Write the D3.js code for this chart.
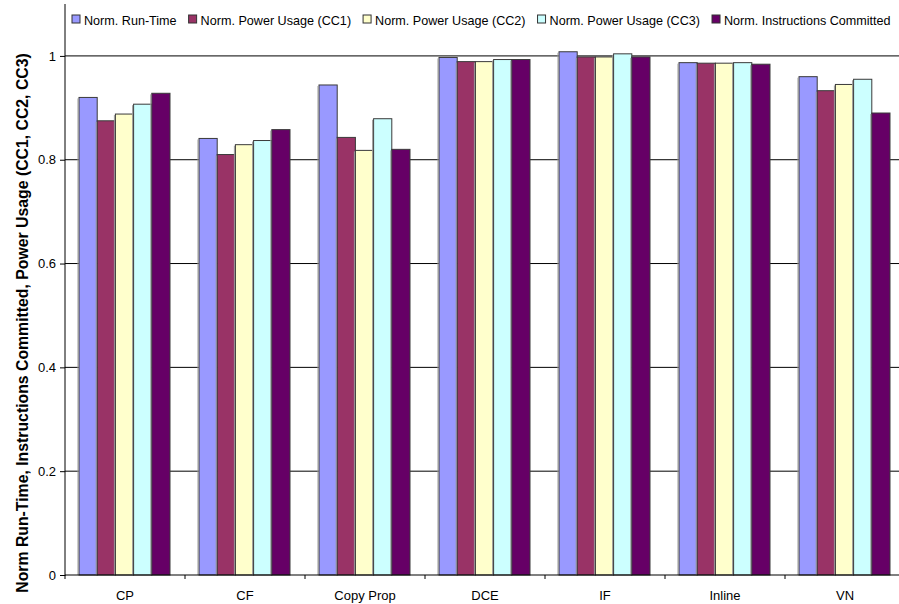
<!DOCTYPE html>
<html>
<head>
<meta charset="utf-8">
<script src="https://cdn.jsdelivr.net/npm/d3@7"></script>
<style>
  body { margin: 0; background: #fff; }
  svg { display: block; font-family: "Liberation Sans", Arial, sans-serif; }
</style>
</head>
<body>
<svg id="chart" width="899" height="604"></svg>
<script>
// categories and series
const categories = ["CP", "CF", "Copy Prop", "DCE", "IF", "Inline", "VN"];
const seriesNames = [
  "Norm. Run-Time",
  "Norm. Power Usage (CC1)",
  "Norm. Power Usage (CC2)",
  "Norm. Power Usage (CC3)",
  "Norm. Instructions Committed"
];
const seriesColors = ["#9999FF", "#993366", "#FFFFCC", "#CCFFFF", "#660066"];
const runTime = [0.920, 0.841, 0.944, 0.997, 1.008, 0.987, 0.960];
const powerCC1 = [0.875, 0.810, 0.843, 0.989, 0.998, 0.986, 0.933];
const powerCC2 = [0.888, 0.829, 0.818, 0.989, 0.998, 0.986, 0.945];
const powerCC3 = [0.907, 0.837, 0.879, 0.993, 1.004, 0.987, 0.955];
const instrCommitted = [0.928, 0.858, 0.820, 0.993, 0.998, 0.984, 0.890];
const yTicks = [0, 0.2, 0.4, 0.6, 0.8, 1];

const seriesValues = [runTime, powerCC1, powerCC2, powerCC3, instrCommitted];

const svg = d3.select("#chart");
const plotLeft = 65, plotRight = 905, plotTop = 4, plotBottom = 575;

// echelles
const x = d3.scaleBand().domain(categories).range([plotLeft, plotRight]).paddingInner(0).paddingOuter(0);
const x1 = d3.scaleBand().domain(d3.range(seriesNames.length)).range([14, x.bandwidth() - 15]);
const y = d3.scaleLinear().domain([0, 1.1]).range([plotBottom, plotTop]);

// grille horizontale
svg.append("g")
  .selectAll("line")
  .data(yTicks.filter((d) => d > 0))
  .enter()
  .append("line")
  .attr("x1", plotLeft)
  .attr("x2", 899)
  .attr("y1", (d) => y(d))
  .attr("y2", (d) => y(d))
  .attr("stroke", "#000")
  .attr("stroke-width", 1);

// barres
const groups = svg.append("g")
  .selectAll("g")
  .data(categories)
  .enter()
  .append("g")
  .attr("transform", (d) => `translate(${x(d)},0)`);

groups.selectAll("rect")
  .data((c, i) => seriesValues.map((vals, s) => ({ s, v: vals[i] })))
  .enter()
  .append("rect")
  .attr("x", (d) => x1(d.s))
  .attr("y", (d) => y(d.v))
  .attr("width", x1.bandwidth())
  .attr("height", (d) => plotBottom - y(d.v))
  .attr("fill", (d) => seriesColors[d.s])
  .attr("stroke", "#3a3a3a")
  .attr("stroke-width", 1);

// ombre grise a gauche des barres
groups.selectAll("line.shadow")
  .data((c, i) => seriesValues.map((vals, s) => ({ s, v: vals[i] })))
  .enter()
  .append("line")
  .attr("class", "shadow")
  .attr("x1", (d) => x1(d.s) - 1)
  .attr("x2", (d) => x1(d.s) - 1)
  .attr("y1", (d) => y(d.v) + 1)
  .attr("y2", plotBottom)
  .attr("stroke", "#999")
  .attr("stroke-width", 1);

// axe Y
const yAxis = d3.axisLeft(y).tickValues(yTicks).tickSize(5).tickFormat((d) => d3.format("")(+d.toFixed(1)));
const gy = svg.append("g").attr("transform", `translate(${plotLeft},0)`).call(yAxis);
gy.select(".domain").attr("stroke", "#000").attr("d", `M-0,${plotTop}V${plotBottom + 1}`);
gy.selectAll(".tick line").attr("stroke", "#000");
gy.selectAll(".tick text").attr("font-size", 13).attr("fill", "#000").attr("x", -9)
  .attr("font-family", "Liberation Sans, Arial, sans-serif");

// axe X
svg.append("line")
  .attr("x1", plotLeft).attr("x2", 899)
  .attr("y1", plotBottom).attr("y2", plotBottom)
  .attr("stroke", "#000");
svg.append("g")
  .selectAll("line")
  .data(categories)
  .enter()
  .append("line")
  .attr("x1", (d) => x(d)).attr("x2", (d) => x(d))
  .attr("y1", plotBottom).attr("y2", plotBottom + 4)
  .attr("stroke", "#000");
svg.append("g")
  .selectAll("text")
  .data(categories)
  .enter()
  .append("text")
  .attr("x", (d) => x(d) + x.bandwidth() / 2)
  .attr("y", 600)
  .attr("text-anchor", "middle")
  .attr("font-size", 13)
  .text((d) => d);

// titre axe Y
svg.append("text")
  .attr("transform", `translate(28,323) rotate(-90)`)
  .attr("text-anchor", "middle")
  .attr("font-size", 15.8)
  .attr("font-weight", "bold")
  .text("Norm Run-Time, Instructions Committed, Power Usage (CC1, CC2, CC3)");

// legende
const legend = svg.append("g");
let lx = 72;
seriesNames.forEach((name, i) => {
  legend.append("rect")
    .attr("x", lx).attr("y", 15)
    .attr("width", 8).attr("height", 8)
    .attr("fill", seriesColors[i])
    .attr("stroke", "#333");
  const t = legend.append("text")
    .attr("x", lx + 12).attr("y", 25)
    .attr("font-size", 12.6)
    .text(name);
  lx += 12 + t.node().getComputedTextLength() + 12;
});
</script>
</body>
</html>
